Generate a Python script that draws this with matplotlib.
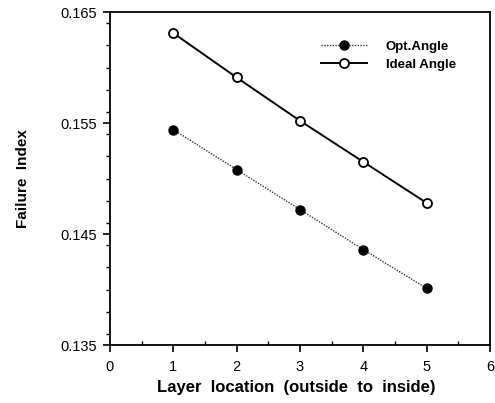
import matplotlib
matplotlib.use("Agg")
import matplotlib.pyplot as plt
from matplotlib.ticker import MultipleLocator

plt.rcParams['font.family'] = ['Liberation Sans', 'DejaVu Sans']

layers = [1, 2, 3, 4, 5]
opt_angle = [0.1544, 0.1508, 0.1472, 0.1436, 0.1401]
ideal_angle = [0.1631, 0.1591, 0.1552, 0.1515, 0.1478]
x_ticks = [0, 1, 2, 3, 4, 5, 6]
y_ticks = [0.135, 0.145, 0.155, 0.165]
y_ticklabels = ['0.135', '0.145', '0.155', '0.165']

fig = plt.figure(figsize=(4.95, 4.03), dpi=100)
ax = fig.add_axes([0.2222, 0.1439, 0.7677, 0.8263])

ax.plot(layers, opt_angle, linestyle=(0, (1, 1)), color='#333333', linewidth=1.0,
        marker='o', markersize=6.5, markerfacecolor='black', markeredgecolor='black',
        label='Opt.Angle')
ax.plot(layers, ideal_angle, linestyle='-', color='black', linewidth=1.4,
        marker='o', markersize=6.5, markerfacecolor='white', markeredgecolor='black',
        markeredgewidth=1.3, label='Ideal Angle')

ax.set_xlim(0, 6)
ax.set_ylim(0.135, 0.165)
ax.set_xticks(x_ticks)
ax.set_yticks(y_ticks)
ax.set_yticklabels(y_ticklabels)
ax.xaxis.set_minor_locator(MultipleLocator(0.5))
ax.yaxis.set_minor_locator(MultipleLocator(0.002))
ax.tick_params(axis='both', which='major', direction='out', length=5, width=1.2,
               labelsize=10.5)
ax.tick_params(axis='x', which='major', pad=6)
ax.tick_params(axis='y', which='major', pad=4)
ax.tick_params(axis='y', which='minor', direction='out', length=3, width=1)
ax.tick_params(axis='x', which='minor', direction='in', length=3, width=1)
for s in ax.spines.values():
    s.set_linewidth(1.3)

ax.set_xlabel('Layer  location  (outside  to  inside)', fontsize=12,
              fontweight='bold', labelpad=7)
ax.xaxis.set_label_coords(0.49, -0.105)
ax.set_ylabel('Failure  Index', fontsize=11, fontweight='bold', labelpad=22)

ax.legend(loc='upper left', bbox_to_anchor=(0.555, 0.915), frameon=False,
          handlelength=3.5, handletextpad=1.4, labelspacing=0.45,
          borderaxespad=0, borderpad=0,
          prop={'weight': 'bold', 'size': 9.5})

fig.savefig('out.png', dpi=100)
